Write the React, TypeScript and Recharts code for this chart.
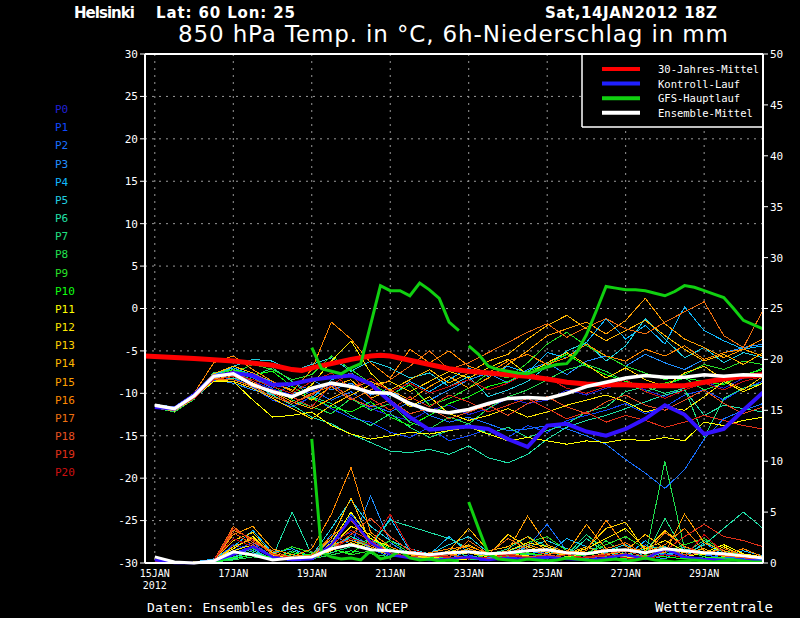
import React from 'react';
import { LineChart, Line, XAxis, YAxis, CartesianGrid, ReferenceLine } from 'recharts';

const MONO = '"DejaVu Sans Mono", "Liberation Mono", monospace';
const SANS = '"DejaVu Sans", "Liberation Sans", sans-serif';

// x axis in 6h steps: step 0 = 14JAN2012 18Z, step 63 = 30JAN 12Z
const LAST_STEP = 63;
const DAY_TICKS = [1, 9, 17, 25, 33, 41, 49, 57];
const DAY_LABELS = ['15JAN', '17JAN', '19JAN', '21JAN', '23JAN', '25JAN', '27JAN', '29JAN'];
const TEMP_TICKS = [-30, -25, -20, -15, -10, -5, 0, 5, 10, 15, 20, 25, 30];
const PRECIP_TICKS = [0, 5, 10, 15, 20, 25, 30, 35, 40, 45, 50];

const MEMBER_NAMES = ['P0', 'P1', 'P2', 'P3', 'P4', 'P5', 'P6', 'P7', 'P8', 'P9', 'P10',
  'P11', 'P12', 'P13', 'P14', 'P15', 'P16', 'P17', 'P18', 'P19', 'P20'];
const MEMBER_COLORS = ['#2020d8', '#1048ff', '#1870ff', '#2090ff', '#10b8ff', '#20d0e0',
  '#20e0a8', '#20e080', '#20e050', '#28e028', '#10ff10', '#ffff00', '#ffe800', '#ffd000',
  '#ffb800', '#ffa000', '#ff8800', '#f07010', '#e85020', '#e03018', '#cc1010'];

// members are plotted every 12h: steps 1, 3, 5 ... 63
const HALF_DAY_STEPS = Array.from({ length: 32 }, (_, k) => 2 * k + 1);

// 850 hPa temperature of the ensemble members (°C), 12-hourly
const MEMBER_TEMP = [
  [-11.5, -11.9, -10.4, -8.1, -7.8, -8.6, -9.5, -10.2, -9.8, -9.0, -10.5, -11.8, -12.6, -13.2, -12.0, -11.4,
    -12.5, -11.8, -10.6, -11.2, -10.8, -9.6, -10.2, -9.4, -8.8, -9.6, -10.4, -9.2, -8.6, -9.4, -8.2, -7.6],
  [-11.7, -12.0, -10.6, -8.5, -8.2, -9.3, -10.8, -11.6, -10.4, -11.8, -12.9, -13.4, -14.6, -15.2, -14.0, -15.6,
    -15.0, -14.2, -15.2, -13.8, -14.6, -13.2, -12.6, -12.0, -11.2, -12.4, -11.6, -10.2, -9.6, -10.8, -9.4, -8.6],
  [-11.4, -11.8, -10.2, -8.0, -7.4, -8.2, -9.4, -8.8, -9.6, -10.8, -9.8, -11.4, -12.2, -11.0, -12.6, -13.4,
    -12.8, -13.6, -14.4, -14.2, -13.8, -14.2, -15.0, -16.0, -17.8, -19.4, -21.2, -19.0, -15.4, -13.0, -12.0, -11.2],
  [-11.6, -11.9, -10.5, -8.4, -8.8, -9.6, -10.2, -9.0, -8.4, -9.6, -8.8, -10.2, -9.4, -11.6, -10.8, -9.6,
    -8.4, -7.6, -8.8, -7.2, -6.4, -7.8, -6.2, -5.6, -6.8, -5.4, -6.4, -7.2, -6.0, -5.2, -4.6, -4.2],
  [-11.3, -11.6, -10.0, -7.8, -7.0, -7.8, -8.6, -9.8, -10.6, -8.4, -7.6, -9.0, -10.4, -8.6, -9.8, -8.4,
    -7.0, -8.0, -6.8, -7.6, -5.2, -5.8, -4.0, -1.2, -3.6, -2.0, -4.2, 0.2, -2.6, -3.8, -4.8, -4.4],
  [-11.5, -11.8, -10.3, -8.0, -6.8, -6.0, -6.2, -7.4, -6.6, -5.8, -7.4, -6.2, -7.0, -8.2, -7.6, -9.2,
    -8.0, -10.4, -9.6, -8.6, -6.8, -5.0, -4.0, -6.2, -4.4, -1.2, -3.6, -5.8, -4.6, -6.4, -5.2, -5.8],
  [-11.6, -12.1, -10.6, -8.6, -8.2, -8.8, -10.2, -11.4, -12.8, -13.6, -14.8, -15.8, -16.8, -17.0, -16.6, -17.2,
    -16.2, -17.6, -18.2, -17.2, -15.4, -14.0, -13.2, -12.6, -11.8, -11.0, -10.2, -9.6, -12.6, -11.4, -11.8, -12.2],
  [-11.4, -11.7, -10.0, -7.6, -7.2, -8.0, -7.0, -8.6, -10.4, -11.2, -12.6, -13.8, -12.4, -14.0, -15.2, -14.4,
    -13.6, -14.8, -14.0, -15.2, -14.4, -13.6, -12.2, -11.6, -9.8, -9.2, -10.0, -9.4, -15.2, -10.6, -9.4, -8.8],
  [-11.7, -12.2, -10.7, -8.3, -7.6, -8.4, -9.0, -10.8, -11.6, -12.4, -10.6, -12.0, -11.2, -13.4, -14.2, -12.8,
    -13.6, -11.8, -10.4, -9.6, -8.4, -7.2, -6.6, -7.4, -8.6, -9.8, -9.0, -8.2, -9.6, -8.8, -8.0, -7.0],
  [-11.5, -11.8, -10.4, -8.2, -7.6, -6.6, -7.2, -8.4, -7.8, -5.6, -7.2, -8.8, -10.2, -9.0, -11.4, -10.6,
    -9.4, -7.6, -8.2, -6.4, -4.2, -2.8, -4.4, -5.6, -6.8, -7.6, -8.4, -7.8, -6.6, -7.2, -6.2, -6.6],
  [-11.6, -11.9, -10.2, -7.9, -7.2, -7.8, -7.4, -9.2, -10.6, -11.6, -12.2, -11.0, -12.8, -13.8, -12.6, -11.2,
    -10.4, -9.2, -8.6, -7.4, -6.6, -5.4, -6.8, -7.8, -8.6, -9.2, -8.8, -8.2, -8.6, -9.0, -7.8, -7.2],
  [-11.4, -11.8, -10.5, -8.6, -8.6, -10.8, -12.8, -12.6, -12.2, -13.8, -14.8, -15.4, -15.0, -14.6, -14.8, -14.4,
    -14.0, -14.8, -15.6, -15.2, -15.6, -16.0, -15.6, -15.8, -15.4, -15.6, -15.2, -15.6, -13.4, -13.8, -13.2, -12.8],
  [-11.5, -11.9, -10.3, -8.2, -7.8, -8.8, -9.8, -10.6, -9.0, -6.2, -3.8, -7.6, -9.8, -11.6, -10.4, -12.4,
    -13.2, -12.6, -11.8, -12.8, -12.2, -11.4, -10.8, -10.2, -11.0, -12.2, -11.6, -12.0, -10.4, -8.6, -9.8, -8.8],
  [-11.7, -12.1, -10.6, -8.4, -8.6, -9.4, -10.6, -11.8, -13.0, -11.4, -10.2, -9.0, -8.6, -9.8, -8.6, -7.4,
    -8.2, -7.0, -6.0, -7.8, -6.4, -5.2, -6.6, -8.2, -7.0, -8.4, -9.2, -7.6, -6.8, -8.4, -9.6, -8.0],
  [-11.3, -11.7, -10.1, -7.7, -6.8, -7.6, -8.8, -9.6, -10.8, -9.2, -8.4, -10.6, -9.6, -8.4, -7.2, -8.8,
    -7.6, -6.2, -5.4, -3.6, -2.0, -0.8, -2.4, -3.8, -2.6, -1.4, -3.2, -4.8, -6.2, -5.4, -6.6, -5.2],
  [-11.6, -12.0, -10.4, -8.3, -8.0, -9.0, -9.8, -11.0, -11.8, -10.6, -9.4, -8.6, -9.6, -10.8, -9.2, -8.0,
    -9.4, -8.2, -6.6, -5.0, -3.2, -2.4, -1.6, -3.0, -1.4, 1.2, -1.8, -3.6, -4.6, -5.8, -4.8, -5.6],
  [-11.5, -11.9, -10.0, -6.4, -5.6, -7.2, -8.6, -9.8, -7.2, -1.6, -3.6, -6.4, -8.2, -4.8, -6.4, -5.0,
    -6.8, -7.6, -6.2, -5.4, -6.6, -5.8, -4.2, -5.6, -6.2, -4.8, -5.6, -4.4, -6.0, -5.2, -4.8, -3.6],
  [-11.6, -12.0, -10.5, -8.4, -8.4, -9.2, -10.4, -11.2, -10.0, -9.2, -10.8, -9.6, -8.4, -6.8, -5.0, -7.2,
    -6.4, -5.2, -4.0, -2.8, -1.8, -3.4, -2.2, -1.2, -2.4, -3.0, -1.6, -0.4, 0.8, -3.2, -4.6, -0.2],
  [-11.4, -11.8, -10.3, -8.0, -7.4, -8.6, -10.0, -11.2, -10.2, -8.8, -10.6, -11.6, -10.8, -12.4, -11.8, -13.0,
    -12.2, -11.4, -12.6, -11.2, -10.4, -11.6, -12.4, -11.0, -10.2, -11.4, -12.0, -10.8, -9.6, -11.2, -12.4, -11.6],
  [-11.7, -12.0, -10.6, -8.4, -8.0, -9.0, -9.6, -10.4, -11.6, -9.0, -7.6, -10.6, -12.0, -10.4, -11.6, -10.2,
    -11.0, -12.2, -11.4, -10.6, -11.8, -13.0, -12.2, -13.4, -12.6, -13.2, -14.0, -13.4, -12.6, -13.2, -13.8, -14.2],
  [-11.5, -11.9, -10.4, -8.1, -7.8, -8.4, -9.2, -10.0, -8.6, -7.6, -9.4, -8.2, -9.8, -8.8, -10.0, -9.2,
    -8.4, -9.6, -8.8, -7.6, -8.2, -9.4, -10.0, -9.2, -8.4, -9.8, -10.6, -9.6, -8.8, -9.6, -8.6, -8.0],
];

// 6h precipitation of the members (mm), 12-hourly
const MEMBER_PRECIP = [
  [0.4, 0.1, 0, 0.2, 1.8, 1.2, 0.4, 0.3, 0.6, 2.2, 3.0, 1.6, 0.8, 0.5, 0.3, 0.6,
    0.4, 0.2, 0.8, 0.5, 1.2, 0.6, 0.3, 0.5, 0.9, 0.4, 1.2, 0.6, 0.4, 0.3, 0.5, 0.2],
  [0.3, 0, 0.1, 0.3, 1.2, 2.0, 0.6, 0.2, 0.4, 1.6, 4.8, 2.4, 1.0, 0.6, 0.2, 0.4,
    0.8, 0.3, 0.5, 0.7, 0.4, 0.3, 0.6, 0.8, 0.5, 0.3, 0.9, 0.5, 0.3, 0.6, 0.4, 0.3],
  [0.2, 0, 0, 0.1, 1.0, 1.6, 0.8, 0.4, 0.3, 1.2, 2.6, 1.4, 0.6, 0.8, 0.4, 0.3,
    0.6, 0.5, 1.0, 1.6, 3.8, 1.2, 0.6, 0.4, 0.3, 1.8, 0.6, 1.4, 0.8, 0.5, 0.6, 0.4],
  [0.3, 0.1, 0, 0.2, 0.8, 1.4, 0.3, 0.6, 0.5, 2.8, 1.8, 6.6, 2.0, 0.8, 0.6, 0.4,
    1.2, 0.6, 0.4, 0.8, 1.4, 0.6, 0.4, 1.0, 0.6, 0.8, 0.4, 1.6, 0.9, 0.7, 0.5, 0.3],
  [0.2, 0, 0.1, 0.4, 1.6, 3.2, 1.0, 1.4, 0.6, 1.8, 2.4, 1.6, 4.4, 1.2, 0.8, 2.6,
    1.0, 0.6, 0.8, 1.2, 0.9, 2.4, 1.6, 1.0, 0.6, 2.2, 0.8, 0.6, 2.0, 0.8, 1.2, 0.7],
  [0.3, 0.1, 0, 0.2, 0.6, 1.0, 0.5, 0.8, 0.7, 3.4, 6.2, 3.6, 2.2, 1.4, 0.9, 1.8,
    2.6, 1.0, 0.6, 1.6, 2.2, 1.4, 0.8, 1.2, 1.8, 0.6, 1.0, 0.8, 1.4, 0.6, 0.9, 0.5],
  [0.2, 0, 0, 0.1, 0.4, 0.8, 0.6, 5.0, 0.8, 1.6, 2.6, 1.8, 4.2, 3.6, 3.0, 2.4,
    1.4, 0.8, 1.2, 1.8, 1.2, 0.6, 2.4, 1.0, 0.8, 1.4, 1.6, 0.8, 1.8, 3.4, 5.0, 3.4],
  [0.2, 0, 0, 0.1, 0.6, 1.2, 0.4, 1.2, 0.6, 1.0, 1.6, 2.4, 1.2, 0.8, 1.0, 1.4,
    0.6, 0.8, 1.4, 2.6, 1.6, 0.8, 2.8, 1.2, 0.9, 0.6, 4.4, 1.0, 2.2, 1.0, 0.8, 0.6],
  [0.1, 0, 0, 0.1, 0.3, 0.6, 0.4, 0.8, 0.4, 0.8, 1.2, 0.9, 0.6, 0.8, 0.5, 0.6,
    0.4, 0.3, 0.6, 0.9, 0.6, 0.4, 0.8, 2.2, 0.8, 0.6, 10.0, 1.4, 0.6, 0.4, 0.3, 0.2],
  [0.2, 0, 0, 0.2, 0.9, 1.4, 0.8, 1.6, 1.0, 1.4, 0.8, 1.2, 2.2, 1.0, 0.8, 0.6,
    0.4, 0.8, 1.2, 2.0, 2.6, 1.2, 1.0, 1.8, 2.6, 1.4, 1.0, 1.8, 2.4, 1.2, 0.8, 0.4],
  [0.1, 0, 0, 0.1, 0.5, 0.8, 0.6, 1.0, 0.8, 1.4, 0.9, 2.4, 1.4, 0.8, 0.6, 0.4,
    0.5, 0.3, 0.8, 1.0, 0.7, 0.5, 0.9, 0.6, 0.4, 0.8, 0.6, 0.4, 0.6, 0.5, 0.3, 0.2],
  [0.2, 0, 0, 0.3, 1.4, 2.6, 0.8, 0.5, 0.4, 2.0, 5.0, 2.4, 1.6, 0.8, 0.5, 0.3,
    0.4, 0.6, 0.9, 0.7, 0.5, 0.6, 1.0, 0.8, 0.6, 0.4, 0.8, 0.6, 1.0, 1.8, 0.9, 0.6],
  [0.3, 0, 0.1, 0.2, 1.2, 1.8, 0.6, 0.3, 0.5, 1.6, 3.6, 2.8, 1.0, 0.6, 0.4, 0.8,
    1.0, 0.6, 1.2, 2.0, 1.6, 0.9, 1.4, 2.4, 3.4, 1.4, 2.2, 1.2, 0.8, 1.6, 0.7, 0.4],
  [0.2, 0, 0, 0.3, 2.2, 3.0, 0.8, 0.6, 0.4, 1.2, 2.0, 1.4, 0.8, 0.5, 0.6, 1.0,
    1.8, 0.8, 2.8, 1.6, 1.0, 0.8, 1.4, 3.4, 4.0, 1.2, 3.2, 1.6, 1.0, 0.8, 0.6, 0.4],
  [0.3, 0, 0, 0.2, 1.6, 2.4, 1.0, 0.4, 0.6, 2.4, 6.4, 2.0, 1.2, 0.8, 0.6, 1.2,
    3.4, 1.2, 1.6, 2.6, 1.2, 0.9, 1.6, 0.8, 1.2, 2.8, 1.4, 1.0, 1.4, 0.6, 0.8, 0.5],
  [0.2, 0, 0, 0.2, 2.8, 3.6, 1.4, 0.8, 0.6, 1.8, 2.2, 1.6, 0.8, 1.2, 0.6, 0.8,
    1.4, 0.8, 1.2, 4.6, 1.8, 1.0, 3.8, 1.4, 0.8, 1.6, 1.0, 4.8, 2.0, 1.2, 0.6, 0.5],
  [0.3, 0, 0, 0.3, 3.2, 2.4, 0.8, 0.6, 1.4, 4.8, 9.4, 3.0, 1.6, 0.8, 1.0, 1.4,
    1.6, 1.0, 0.8, 1.8, 1.2, 0.8, 1.2, 4.2, 1.6, 1.0, 1.8, 3.4, 1.2, 0.8, 1.4, 0.6],
  [0.2, 0, 0, 0.2, 3.6, 2.0, 1.2, 0.5, 0.8, 2.6, 4.2, 1.8, 0.8, 0.6, 0.9, 0.5,
    2.2, 0.9, 2.4, 1.4, 0.8, 1.2, 0.9, 1.4, 2.0, 0.8, 3.0, 1.6, 0.9, 1.4, 0.8, 0.5],
  [0.2, 0, 0, 0.3, 3.0, 1.8, 0.6, 0.4, 0.5, 1.4, 2.8, 4.4, 2.6, 1.2, 0.6, 0.8,
    0.5, 0.4, 0.9, 0.6, 0.8, 0.5, 0.6, 0.9, 1.2, 0.6, 1.4, 0.8, 1.0, 0.7, 0.5, 0.4],
  [0.3, 0, 0, 0.2, 3.4, 2.2, 0.9, 0.5, 0.7, 1.8, 3.2, 2.2, 1.0, 0.6, 0.8, 0.5,
    0.6, 0.3, 0.7, 0.5, 0.6, 0.8, 0.5, 0.7, 0.9, 0.5, 1.2, 2.6, 3.8, 2.6, 2.2, 1.6],
  [0.2, 0, 0, 0.3, 2.4, 1.6, 0.7, 0.4, 0.6, 1.4, 2.4, 1.8, 4.8, 1.4, 0.8, 0.6,
    0.4, 0.6, 0.8, 0.5, 0.7, 0.4, 0.6, 0.8, 0.5, 0.4, 0.8, 0.6, 2.8, 1.0, 0.6, 0.4],
];

// Kontroll-Lauf and Ensemble-Mittel, 12-hourly
const CONTROL_TEMP = [-11.6, -11.8, -10.2, -8.0, -7.6, -7.9, -9.0, -8.9, -8.4, -8.1, -7.9, -8.9, -11.0, -12.8, -14.3, -14.1,
  -13.9, -14.2, -15.4, -16.3, -13.8, -13.6, -14.5, -15.0, -14.2, -13.0, -11.4, -12.5, -14.8, -14.2, -12.0, -9.9];
const CONTROL_PRECIP = [0.3, 0, 0, 0.2, 0.8, 1.6, 0.6, 0.3, 0.4, 1.8, 4.4, 2.0, 0.8, 0.5, 0.3, 0.4,
  0.6, 0.3, 0.5, 0.4, 0.6, 0.4, 0.3, 0.5, 0.8, 0.4, 1.4, 0.6, 0.4, 0.3, 0.3, 0.2];
const MEAN_TEMP = [-11.4, -11.8, -10.3, -8.0, -7.7, -9.0, -9.8, -10.4, -9.4, -8.8, -9.2, -9.9, -10.0, -11.2, -12.0, -12.3,
  -11.9, -11.2, -10.6, -10.5, -10.6, -10.0, -9.2, -8.7, -8.2, -7.9, -8.1, -8.1, -7.8, -8.0, -7.8, -7.9];
const MEAN_PRECIP = [0.6, 0.1, 0, 0.2, 1.1, 0.8, 0.3, 0.5, 0.6, 1.4, 1.8, 1.3, 1.2, 1.0, 0.8, 1.0,
  1.1, 0.9, 1.0, 1.2, 1.3, 1.0, 0.9, 1.2, 1.3, 1.0, 1.4, 1.2, 1.0, 0.9, 0.7, 0.5];

// 30-Jahres-Mittel
const CLIM_STEPS = [0, 5, 9, 13, 15, 16, 17, 19, 21, 23, 24, 25, 27, 29, 31, 33, 35, 37, 39, 41, 43, 45, 47, 49, 51, 53, 55, 57, 59, 61, 63];
const CLIM_TEMP = [-5.6, -5.9, -6.2, -6.7, -7.2, -7.3, -7.0, -6.5, -6.0, -5.6, -5.5, -5.6, -6.1, -6.6, -7.1, -7.4,
  -7.6, -7.8, -8.0, -8.3, -8.7, -8.9, -9.0, -9.0, -9.1, -9.1, -9.1, -8.7, -8.3, -8.0, -7.8];

// GFS-Hauptlauf, 6-hourly, in two pieces (steps 17-32 and 33-63)
const GFS_STEPS_A = Array.from({ length: 16 }, (_, k) => 17 + k);
const GFS_STEPS_B = Array.from({ length: 31 }, (_, k) => 33 + k);
const GFS_TEMP_A = [-4.6, -7.1, -7.4, -7.7, -7.0, -6.5, -1.9, 2.7, 2.1, 2.1, 1.5, 3.0, 2.2, 1.2, -1.6, -2.6];
const GFS_TEMP_B = [-4.4, -5.4, -6.8, -7.2, -7.4, -7.6, -7.7, -7.3, -6.9, -6.6, -6.5, -5.2, -3.1, -0.3, 2.6, 2.4,
  2.2, 2.2, 2.1, 1.8, 1.5, 2.0, 2.7, 2.5, 2.1, 1.7, 1.3, 0.0, -1.4, -1.9, -2.4];
const GFS_PRECIP_A = [12.2, 1.0, 0.6, 0.4, 0.5, 0.3, 1.2, 0.4, 0.6, 1.2, 0.5, 0.3, 0.4, 0.2, 0.3, 0.2];
const GFS_PRECIP_B = [6.0, 3.4, 0.9, 0.4, 0.3, 0.2, 0.4, 0.3, 0.2, 0.3, 0.5, 0.4, 0.3, 0.2, 0.3, 0.4,
  0.2, 0.3, 0.5, 0.3, 0.2, 0.1, 0.2, 0.3, 0.2, 0.1, 0.2, 0.3, 0.2, 0.1, 0.1];

const LEGEND = [
  { label: '30-Jahres-Mittel', color: '#ff0000' },
  { label: 'Kontroll-Lauf', color: '#2020ff' },
  { label: 'GFS-Hauptlauf', color: '#10d010' },
  { label: 'Ensemble-Mittel', color: '#ffffff' },
];

// one row per 6h step, series that are missing at a step stay null
const SERIES_KEYS = [
  ...MEMBER_NAMES.map((_, i) => `t${i}`),
  ...MEMBER_NAMES.map((_, i) => `p${i}`),
  'ctrl', 'ctrlP', 'mean', 'meanP', 'clim', 'gfsA', 'gfsB', 'gfsPA', 'gfsPB',
];
const rows: Record<string, number | null>[] = Array.from({ length: LAST_STEP + 1 }, (_, s) => {
  const row: Record<string, number | null> = { step: s };
  SERIES_KEYS.forEach((k) => { row[k] = null; });
  return row;
});
const put = (key: string, steps: number[], values: number[]) => {
  values.forEach((v, i) => { rows[steps[i]][key] = v; });
};
MEMBER_TEMP.forEach((vals, i) => put(`t${i}`, HALF_DAY_STEPS, vals));
MEMBER_PRECIP.forEach((vals, i) => put(`p${i}`, HALF_DAY_STEPS, vals));
put('ctrl', HALF_DAY_STEPS, CONTROL_TEMP);
put('ctrlP', HALF_DAY_STEPS, CONTROL_PRECIP);
put('mean', HALF_DAY_STEPS, MEAN_TEMP);
put('meanP', HALF_DAY_STEPS, MEAN_PRECIP);
put('clim', CLIM_STEPS, CLIM_TEMP);
put('gfsA', GFS_STEPS_A, GFS_TEMP_A);
put('gfsB', GFS_STEPS_B, GFS_TEMP_B);
put('gfsPA', GFS_STEPS_A, GFS_PRECIP_A);
put('gfsPB', GFS_STEPS_B, GFS_PRECIP_B);

const DayTick = (props: any) => {
  const { x, payload } = props;
  const i = DAY_TICKS.indexOf(payload.value);
  return (
    <g>
      <text x={x} y={577} textAnchor="middle" fill="#fff" fontSize={10} fontFamily={MONO}>
        {DAY_LABELS[i]}
      </text>
      {i === 0 && (
        <text x={x} y={589} textAnchor="middle" fill="#fff" fontSize={10} fontFamily={MONO}>2012</text>
      )}
    </g>
  );
};

const thin = (key: string, color: string, axis: string) => (
  <Line
    key={key}
    yAxisId={axis}
    dataKey={key}
    stroke={color}
    strokeWidth={1}
    dot={false}
    connectNulls
    isAnimationActive={false}
    shapeRendering="crispEdges"
  />
);

const App: React.FC = () => {
  return (
    <div style={{ position: 'absolute', left: 0, top: 0, width: 800, height: 618, background: '#000' }}>
      <LineChart width={800} height={618} data={rows} margin={{ top: 54, right: 0, bottom: 0, left: 0 }}>
        <CartesianGrid yAxisId="temp" stroke="#9a9a9a" strokeDasharray="2 5" />
        <XAxis
          type="number"
          dataKey="step"
          domain={[0, LAST_STEP]}
          ticks={DAY_TICKS}
          interval={0}
          height={55}
          tickLine={false}
          axisLine={{ stroke: '#fff', strokeWidth: 2 }}
          tick={<DayTick />}
        />
        <YAxis
          yAxisId="temp"
          domain={[-30, 30]}
          ticks={TEMP_TICKS}
          interval={0}
          width={145}
          tickSize={5}
          tickLine={{ stroke: '#fff' }}
          axisLine={{ stroke: '#fff', strokeWidth: 2 }}
          tick={{ fill: '#fff', fontSize: 11, fontFamily: MONO }}
        />
        <YAxis
          yAxisId="precip"
          orientation="right"
          domain={[0, 50]}
          ticks={PRECIP_TICKS}
          interval={0}
          width={37}
          tickSize={5}
          tickLine={{ stroke: '#fff' }}
          axisLine={{ stroke: '#fff', strokeWidth: 2 }}
          tick={{ fill: '#fff', fontSize: 11, fontFamily: MONO }}
        />
        <ReferenceLine yAxisId="temp" y={30} stroke="#fff" strokeWidth={2} />

        {MEMBER_NAMES.map((_, i) => thin(`t${i}`, MEMBER_COLORS[i], 'temp'))}
        {MEMBER_NAMES.map((_, i) => thin(`p${i}`, MEMBER_COLORS[i], 'precip'))}

        <Line yAxisId="temp" dataKey="clim" stroke="#ff0000" strokeWidth={5} dot={false} connectNulls isAnimationActive={false} />
        <Line yAxisId="temp" dataKey="ctrl" stroke="#3311ff" strokeWidth={4} dot={false} connectNulls isAnimationActive={false} />
        <Line yAxisId="precip" dataKey="ctrlP" stroke="#3311ff" strokeWidth={2.5} dot={false} connectNulls isAnimationActive={false} />
        <Line yAxisId="temp" dataKey="gfsA" stroke="#10d010" strokeWidth={3} dot={false} connectNulls isAnimationActive={false} />
        <Line yAxisId="temp" dataKey="gfsB" stroke="#10d010" strokeWidth={3} dot={false} connectNulls isAnimationActive={false} />
        <Line yAxisId="precip" dataKey="gfsPA" stroke="#10d010" strokeWidth={3} dot={false} connectNulls isAnimationActive={false} />
        <Line yAxisId="precip" dataKey="gfsPB" stroke="#10d010" strokeWidth={3} dot={false} connectNulls isAnimationActive={false} />
        <Line yAxisId="temp" dataKey="mean" stroke="#ffffff" strokeWidth={3.5} dot={false} connectNulls isAnimationActive={false} />
        <Line yAxisId="precip" dataKey="meanP" stroke="#ffffff" strokeWidth={3} dot={false} connectNulls isAnimationActive={false} />
      </LineChart>

      {/* titles, member labels, legend, footer */}
      <svg width={800} height={618} style={{ position: 'absolute', left: 0, top: 0, pointerEvents: 'none' }}>
        <text x={74} y={18} fill="#fff" fontSize={15} fontWeight="bold" fontFamily={SANS} textLength={61}>Helsinki</text>
        <text x={156} y={18} fill="#fff" fontSize={15} fontWeight="bold" fontFamily={SANS} textLength={139}>Lat: 60 Lon: 25</text>
        <text x={545} y={18} fill="#fff" fontSize={15} fontWeight="bold" fontFamily={SANS} textLength={172}>Sat,14JAN2012 18Z</text>
        <text x={178} y={42} fill="#fff" fontSize={23} fontFamily={SANS} textLength={550}>
          850 hPa Temp. in °C, 6h-Niederschlag in mm
        </text>

        {MEMBER_NAMES.map((name, i) => (
          <text key={name} x={55} y={113 + i * 18.17} fill={MEMBER_COLORS[i]} fontSize={11} fontFamily={MONO}>
            {name}
          </text>
        ))}

        <rect x={582} y={55} width={180} height={72} fill="#000" />
        <line x1={582} y1={55} x2={582} y2={127} stroke="#fff" strokeWidth={1.5} />
        <line x1={582} y1={127} x2={762} y2={127} stroke="#fff" strokeWidth={1.5} />
        {LEGEND.map((item, i) => (
          <g key={item.label}>
            <line x1={602} x2={640} y1={69 + i * 14.6} y2={69 + i * 14.6} stroke={item.color} strokeWidth={4} />
            <text x={658} y={73 + i * 14.6} fill="#fff" fontSize={10.5} fontFamily={MONO}>{item.label}</text>
          </g>
        ))}

        <text x={147} y={612} fill="#fff" fontSize={13} fontFamily={MONO} textLength={261}>
          Daten: Ensembles des GFS von NCEP
        </text>
        <text x={655} y={612} fill="#fff" fontSize={14} fontFamily={MONO} textLength={118}>Wetterzentrale</text>
      </svg>
    </div>
  );
};

export default App;
